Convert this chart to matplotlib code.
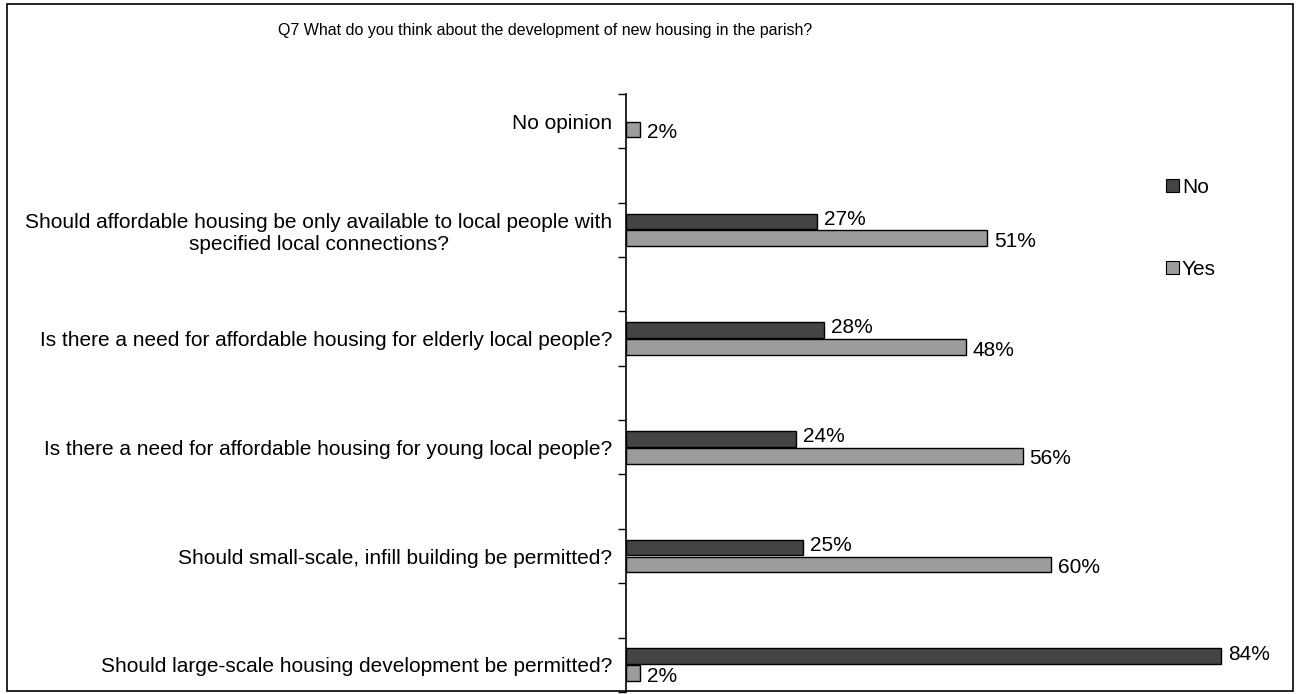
import numpy as np
import matplotlib.pyplot as plt
from matplotlib.patches import Rectangle, Patch

plt.rcParams['font.family'] = ['Liberation Sans', 'DejaVu Sans']

questions = [
    "No opinion",
    "Should affordable housing be only available to local people with\nspecified local connections?",
    "Is there a need for affordable housing for elderly local people?",
    "Is there a need for affordable housing for young local people?",
    "Should small-scale, infill building be permitted?",
    "Should large-scale housing development be permitted?",
]
no_pct = [np.nan, 27, 28, 24, 25, 84]
yes_pct = [2, 51, 48, 56, 60, 2]

title = "Q7 What do you think about the development of new housing in the parish?"

# each question sits on every other slot, leaving a blank row between groups
n_slots = 2 * len(questions) - 1
pos = np.arange(len(questions)) * 2

fig = plt.figure(figsize=(12.98, 6.94), dpi=100)
ax = fig.add_axes([0.4823, 0.003, 0.48, 0.8617])

fs = 15
h = 0.29
off = 0.155
no_col = '#444444'
yes_col = '#9c9c9c'

for y, v in zip(pos, no_pct):
    if np.isnan(v):
        continue
    ax.barh(y - off, v, height=h, color=no_col, edgecolor='black', linewidth=1)
    ax.text(v + 1.0, y - off - 0.04, f"{v:.0f}%", va='center', ha='left', fontsize=fs)

for y, v in zip(pos, yes_pct):
    if np.isnan(v):
        continue
    ax.barh(y + off, v, height=h, color=yes_col, edgecolor='black', linewidth=1)
    ax.text(v + 1.0, y + off + 0.06, f"{v:.0f}%", va='center', ha='left', fontsize=fs)

ax.set_ylim(n_slots - 0.5, -0.5)
ax.set_xlim(0, 88)

ax.set_yticks(pos)
ax.set_yticklabels(questions, fontsize=fs, multialignment='center')
ax.set_yticks(np.arange(n_slots + 1) - 0.5, minor=True)
ax.tick_params(axis='y', which='major', length=0, pad=10)
ax.tick_params(axis='y', which='minor', length=6, width=1, direction='out')
ax.set_xticks([])

for side in ['top', 'right', 'bottom']:
    ax.spines[side].set_visible(False)
ax.spines['left'].set_linewidth(1.2)

fig.text(0.42, 0.956, title, ha='center', va='center', fontsize=11.5)

handles = [Patch(facecolor=no_col, edgecolor='black', linewidth=0.8),
           Patch(facecolor=yes_col, edgecolor='black', linewidth=0.8)]
fig.legend(handles, ['No', 'Yes'], loc='upper left', bbox_to_anchor=(0.884, 0.771),
           frameon=False, fontsize=fs, handlelength=0.6, handleheight=0.6,
           handletextpad=0.15, labelspacing=3.05)

# outer chart border
fig.add_artist(Rectangle((0.0055, 0.004), 0.9905, 0.9905, transform=fig.transFigure,
                         fill=False, edgecolor='black', linewidth=1.2))

fig.savefig('out.png', dpi=100)
